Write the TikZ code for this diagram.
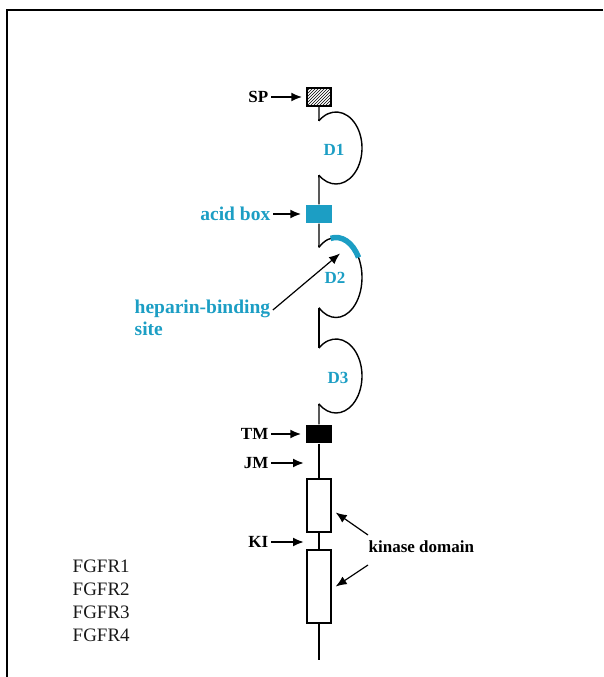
\documentclass[tikz,border=0pt]{standalone}
\usepackage{fontspec}
\setmainfont{Liberation Serif}
\usetikzlibrary{arrows.meta, positioning, calc, patterns}
\definecolor{fgfcyan}{RGB}{28,158,196}

\begin{document}
\begin{tikzpicture}
  [x=1pt, y=-1pt, >={Latex[length=11pt,width=9pt]}, line width=1.4pt,
  lab/.style={font=\fontsize{17}{20}\selectfont\bfseries, inner sep=2pt},
  cyanlab/.style={lab, text=fgfcyan},
  biglab/.style={cyanlab, font=\fontsize{19.5}{22}\selectfont\bfseries},
  famlab/.style={font=\fontsize{19}{20}\selectfont, text=black!90, inner sep=2pt},
  hatchbox/.style={rectangle, draw, pattern=north east lines, minimum width=24pt, minimum height=18pt, inner sep=0pt},
  acidbox/.style={rectangle, fill=fgfcyan, minimum width=26pt, minimum height=18pt, inner sep=0pt},
  tmbox/.style={rectangle, fill=black, minimum width=26pt, minimum height=18pt, inner sep=0pt},
  kinbox/.style={rectangle, draw, fill=white, minimum width=24pt, inner sep=0pt},
  ptr/.style={->, line width=2pt, shorten >=4pt},
  hepbind/.style={fgfcyan, line width=5.5pt},
  frame/.style={line width=2pt}
  ]

  \useasboundingbox (0,0) rectangle (603,677);
  \draw[frame] (603,10) -- (7,10) -- (7,677);

  % boxes on the chain
  \node[hatchbox] (sp) at (319,97) {};
  \node[acidbox] (acid) at (319,214) {};
  \node[tmbox] (tm) at (319,434) {};
  \node[kinbox, minimum height=53pt] (kin1) at (319,505.5) {};
  \node[kinbox, minimum height=73pt] (kin2) at (319,586.5) {};
  \coordinate (tail) at (319,660);

  % Ig-like loops
  \foreach \d/\cy/\ry in {d1/148/36pt, d2/277.5/40pt, d3/376/37pt}{
    \coordinate (\d-c) at (336,\cy);
    \coordinate (\d-in) at ($(\d-c)+(131:26pt and \ry)$);
    \coordinate (\d-out) at ($(\d-c)+(-131:26pt and \ry)$);
    \draw (\d-in) arc[start angle=131, end angle=-131, x radius=26pt, y radius=\ry];
  }
  \draw[hepbind] ($(d2-c)+(102:26pt and 40pt)$) arc[start angle=102, end angle=30, x radius=26pt, y radius=40pt];

  % chain
  \draw (sp) -- (d1-in);
  \draw (d1-out) -- (acid);
  \draw (acid) -- (d2-in);
  \draw (d2-out) -- (d3-in);
  \draw (d3-out) -- (tm);
  \draw (tm) -- (kin1);
  \draw (kin1) -- (kin2);
  \draw (kin2) -- (tail);

  % domain names
  \node[cyanlab] (d1lab) at (334,150) {D1};
  \node[cyanlab] (d2lab) at (335,278) {D2};
  \node[cyanlab] (d3lab) at (338,378) {D3};

  % labels on the left
  \node[lab, anchor=east] (splab) at (271,97) {SP};
  \node[biglab, anchor=east] (acidlab) at (273,214) {acid box};
  \node[lab, anchor=east] (tmlab) at (271,434) {TM};
  \node[lab, anchor=east] (jmlab) at (271,463) {JM};
  \node[lab, anchor=east] (kilab) at (271,542) {KI};
  \coordinate (jmpt) at (308,463);
  \coordinate (kipt) at (308,542);
  \draw[ptr] (splab) -- (sp);
  \draw[ptr] (acidlab) -- (acid);
  \draw[ptr] (tmlab) -- (tm);
  \draw[ptr] (jmlab) -- (jmpt);
  \draw[ptr] (kilab) -- (kipt);

  % heparin-binding site
  \node[biglab, align=left, anchor=north west] (heplab) at (132,297) {heparin-binding\\site};
  \coordinate (heptip) at ($(d2-c)+(4,-24)$);
  \draw[->, line width=1.2pt] ($(heplab.north east)+(0,13)$) -- (heptip);

  % kinase domain
  \node[lab, anchor=west] (kinlab) at (366,547) {kinase domain};
  \draw[->, line width=1.2pt] ($(kinlab.west)+(2,-12)$) -- ($(kin1.east)+(4,7)$);
  \draw[->, line width=1.2pt] ($(kinlab.west)+(2,18)$) -- ($(kin2.east)+(4,0)$);

  % receptor family
  \foreach \i in {1,...,4}
    \node[famlab, anchor=west] (fgfr\i) at (70,543+23*\i) {FGFR\i};
\end{tikzpicture}
\end{document}
